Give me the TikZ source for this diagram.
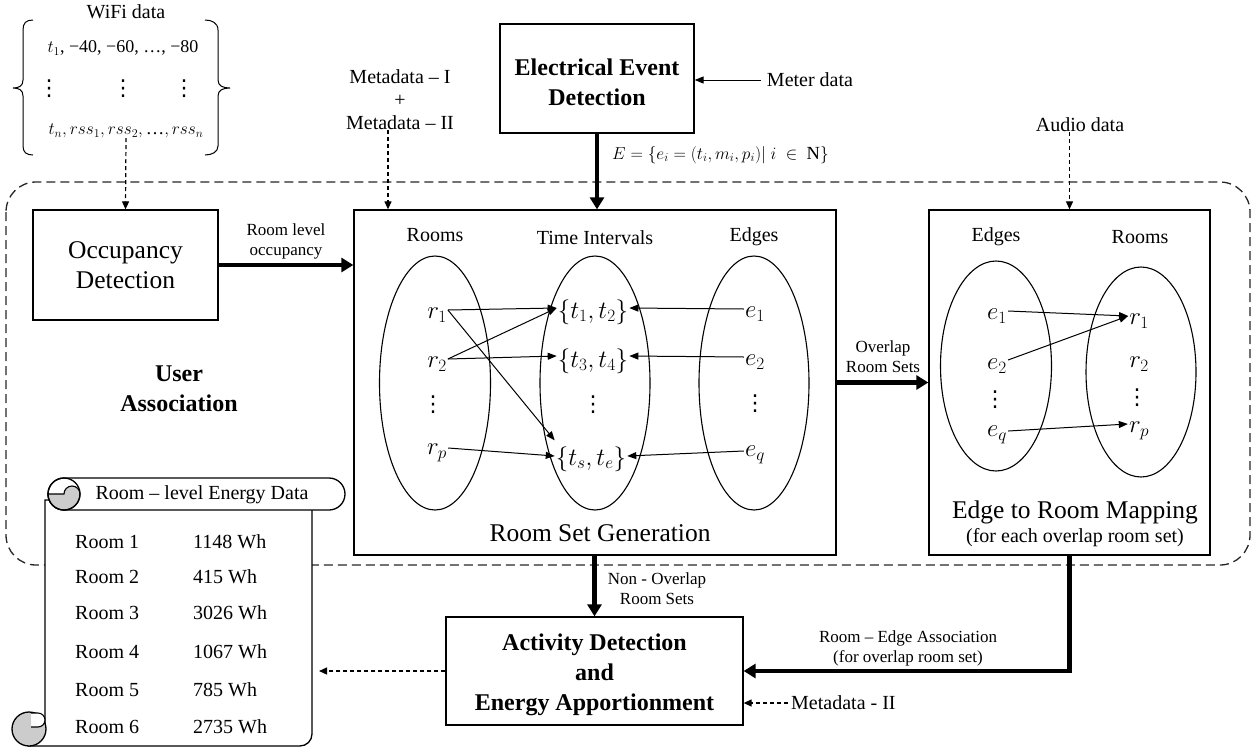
\documentclass[tikz,border=0pt]{standalone}
\usepackage{fontspec}
\setmainfont{Liberation Serif}
\newfontfamily\djv{DejaVu Sans}
\usetikzlibrary{arrows.meta,calc}
\begin{document}
\begin{tikzpicture}[x=1pt,y=-1pt,
  box/.style={draw,line width=1.3pt,fill=white,inner sep=0},
  lbl/.style={font=\fontsize{20}{23}\selectfont,align=center,inner sep=0},
  sml/.style={font=\fontsize{17}{20}\selectfont,align=center,inner sep=0},
  ttl/.style={font=\fontsize{25.5}{30}\selectfont,align=center,inner sep=0},
  bttl/.style={font=\bfseries\fontsize{24}{30}\selectfont,align=center,inner sep=0},
  mth/.style={font=\fontsize{26}{30}\selectfont,inner sep=1pt},
  vd/.style={font=\djv\fontsize{22}{24}\selectfont,inner sep=0},
  wmth/.style={font=\fontsize{18.5}{22}\selectfont,inner sep=0},
  thinarrow/.style={line width=1pt,-{Triangle[length=9pt,width=7pt]}},
  thickarrow/.style={line width=4.5pt,-{Triangle[length=12pt,width=14pt]}},
  dasharrow/.style={line width=1.2pt,dash pattern=on 4pt off 3pt,-{Triangle[length=8pt,width=7pt]}},
  dashbox/.style={line width=1.3pt,draw=black!85,dash pattern=on 9pt off 5pt,rounded corners=30pt},
  ell/.style={line width=1.1pt},
]
\useasboundingbox (0,0) rectangle (1258,750);

% big dashed region
\draw[dashbox] (6,182) rectangle (1250,565);

% WiFi data
\node[lbl] (wifit) at (126,12) {WiFi data};
\node[font=\fontsize{18}{22}\selectfont,inner sep=0] (w1) at (123,48) {$t_1$, −40, −60, …, −80};
\node[vd] (wd1) at (49,89) {⋮};
\node[vd] (wd2) at (123,89) {⋮};
\node[vd] (wd3) at (184,89) {⋮};
\node[wmth] (w3) at (126,131) {$t_n, rss_1, rss_2, \mbox{…}, rss_n$};
\draw[line width=1pt] (33,20) .. controls (26,20) and (23,23) .. (23,30) -- (23,80)
   .. controls (23,86) and (19,88) .. (13,88) .. controls (19,88) and (23,90) .. (23,96)
   -- (23,146) .. controls (23,152) and (26,155) .. (33,155);
\draw[line width=1pt] (205,20) .. controls (212,20) and (218,23) .. (218,30) -- (218,80)
   .. controls (218,86) and (223,88) .. (230,88) .. controls (223,88) and (218,90) .. (218,96)
   -- (218,146) .. controls (218,152) and (212,155) .. (205,155);

% boxes
\node[box,minimum width=185pt,minimum height=110pt] (occ) at (125.5,265) {};
\node[ttl] (occt) at (125.5,265) {Occupancy\\Detection};
\node[box,minimum width=482pt,minimum height=345pt] (rsg) at (595,382.5) {};
\node[box,minimum width=194pt,minimum height=109pt] (eed) at (597,78.5) {};
\node[bttl] (eedt) at (597,82) {Electrical Event\\Detection};
\node[box,minimum width=281pt,minimum height=345pt] (erm) at (1069.5,382.5) {};
\node[box,minimum width=297pt,minimum height=108pt] (act) at (594.5,671) {};
\node[bttl] (actt) at (594.5,675) {Activity Detection\\and\\Energy Apportionment};

% User association
\node[bttl] (ua) at (179,389) {User\\Association};

% external labels
\node[lbl,inner sep=6pt] (meter) at (810,80) {Meter data};
\node[lbl] (meta) at (400,100) {Metadata -- I\\+\\Metadata -- II};
\node[wmth,anchor=west] (elab) at (612,155) {$E = \{e_i = (t_i, m_i, p_i)|\ i\ \in\ \mathrm{N}\}$};
\node[lbl] (audio) at (1080,125) {Audio data};
\node[sml] (rlo) at (286,241) {Room level\\occupancy};
\node[sml] (ors) at (883,357) {Overlap\\Room Sets};
\node[sml] (nors) at (657,589) {Non - Overlap\\Room Sets};
\node[sml] (rea) at (908,648) {Room -- Edge Association\\(for overlap room set)};
\node[lbl,anchor=west,inner sep=3pt] (md2) at (788,703) {Metadata - II};

% Room set generation content
\node[lbl] (hrooms) at (435,235) {Rooms};
\node[lbl] (htime) at (595,238) {Time Intervals};
\node[lbl] (hedges) at (754,237) {Edges};
\draw[ell] (435,383) ellipse [x radius=55.5, y radius=127];
\draw[ell] (595,383) ellipse [x radius=55, y radius=127];
\draw[ell] (754,383) ellipse [x radius=55, y radius=127];
\node[ttl] (rsgt) at (600,533) {Room Set Generation};

\node[mth] (r1) at (437,315) {$r_1$};
\node[mth] (r2) at (437,364) {$r_2$};
\node[vd] (rd) at (433,405) {⋮};
\node[mth] (rp) at (437,453) {$r_p$};
\node[mth] (t12) at (593,312) {$\{t_1, t_2\}$};
\node[mth] (t34) at (593,361) {$\{t_3, t_4\}$};
\node[vd] (td) at (593,405) {⋮};
\node[mth] (tse) at (591,459) {$\{t_s, t_e\}$};
\node[mth] (e1) at (755,314) {$e_1$};
\node[mth] (e2) at (755,362) {$e_2$};
\node[vd] (ed) at (755,404) {⋮};
\node[mth] (eq) at (755,455) {$e_q$};

\draw[thinarrow] ([yshift=5pt]r1.east) -- ([yshift=4pt]t12.west);
\draw[thinarrow] ([yshift=5pt]r1.east) -- ([yshift=5pt]tse.north west);
\draw[thinarrow] ([yshift=5pt]r2.east) -- ([yshift=4pt]t12.west);
\draw[thinarrow] ([yshift=5pt]r2.east) -- ([yshift=5pt]t34.west);
\draw[thinarrow] ([yshift=5pt]rp.east) -- ([yshift=3pt]tse.west);
\draw[thinarrow] ([yshift=5pt]e1.west) -- ([yshift=4pt]t12.east);
\draw[thinarrow] ([yshift=5pt]e2.west) -- ([yshift=5pt]t34.east);
\draw[thinarrow] ([yshift=4pt]eq.west) -- ([yshift=3pt]tse.east);

% Edge to room mapping content
\node[lbl] (hedges2) at (996,237) {Edges};
\node[lbl] (hrooms2) at (1140,237) {Rooms};
\draw[ell] (996,366) ellipse [x radius=55.5, y radius=105];
\draw[ell] (1141,372) ellipse [x radius=55, y radius=105];
\node[mth] (f1) at (997,316) {$e_1$};
\node[mth] (f2) at (997,366) {$e_2$};
\node[vd] (fd) at (995,400) {⋮};
\node[mth] (fq) at (997,435) {$e_q$};
\node[mth] (s1) at (1139,321) {$r_1$};
\node[mth] (s2) at (1139,364) {$r_2$};
\node[vd] (sd) at (1137,398) {⋮};
\node[mth] (sp) at (1139,431) {$r_p$};
\draw[thinarrow] ([yshift=5pt]f1.east) -- ([yshift=5pt]s1.west);
\draw[thinarrow] ([yshift=6pt]f2.east) -- ([yshift=5pt]s1.west);
\draw[thinarrow] ([yshift=4pt]fq.east) -- ([yshift=7pt]sp.west);
\node[ttl] (ermt) at (1075,512) {Edge to Room Mapping};
\node[lbl] (ermt2) at (1075,538) {(for each overlap room set)};

% connectors
\draw[dasharrow] (w3.south) -- (occ.north);
\draw[dasharrow] ([xshift=-12pt]meta.south) -- ([xshift=-12pt]meta.south |- rsg.north);
\draw[thickarrow] (eed.south) -- (eed.south |- rsg.north);
\draw[thinarrow] (meter.west) -- (meter.west -| eed.east);
\draw[dasharrow] (erm.north |- audio.south) -- (erm.north);
\draw[thickarrow] (occ.east) -- (occ.east -| rsg.west);
\draw[thickarrow] (rsg.east |- erm.west) -- (erm.west);
\draw[thickarrow] (act.north |- rsg.south) -- (act.north);
\draw[thickarrow] (erm.south) |- (act.east);
\draw[dasharrow] (md2.west) -- (md2.west -| act.east);

% scroll
\coordinate (scrollR) at (319,671);
\filldraw[fill=white,line width=1.3pt] (45,500) -- (45,729) -- (29,746) -- (300,746)
   arc[start angle=90,end angle=0,radius=12] -- (312,500) -- cycle;
\filldraw[fill=gray!40,line width=1.3pt] (29,729) circle[radius=17];
\filldraw[fill=white,line width=1.1pt] (31,713) -- (38,713) arc[start angle=-90,end angle=90,radius=7] -- (31,727);
\filldraw[fill=white,line width=1.3pt] (64,478) -- (329,478) arc[start angle=-90,end angle=90,radius=16]
   -- (64,510) arc[start angle=90,end angle=270,radius=16] -- cycle;
\filldraw[fill=gray!40,line width=1.1pt] (48,494) arc[start angle=180,end angle=0,radius=16]
   arc[start angle=0,end angle=-180,radius=8] -- cycle;
\draw[line width=1.3pt] (64,494) circle[radius=16];
\node[lbl] (sct) at (202,495) {Room -- level Energy Data};
\foreach \i/\v/\y in {1/1148/542,2/415/577,3/3026/613,4/1067/652,5/785/690,6/2735/727}{
  \node[lbl,anchor=west] (room\i) at (75,\y) {Room \i};
  \node[lbl,anchor=west] (val\i) at (193,\y) {\v\ Wh};
}
\draw[dasharrow] (act.west) -- (scrollR);
\end{tikzpicture}
\end{document}
